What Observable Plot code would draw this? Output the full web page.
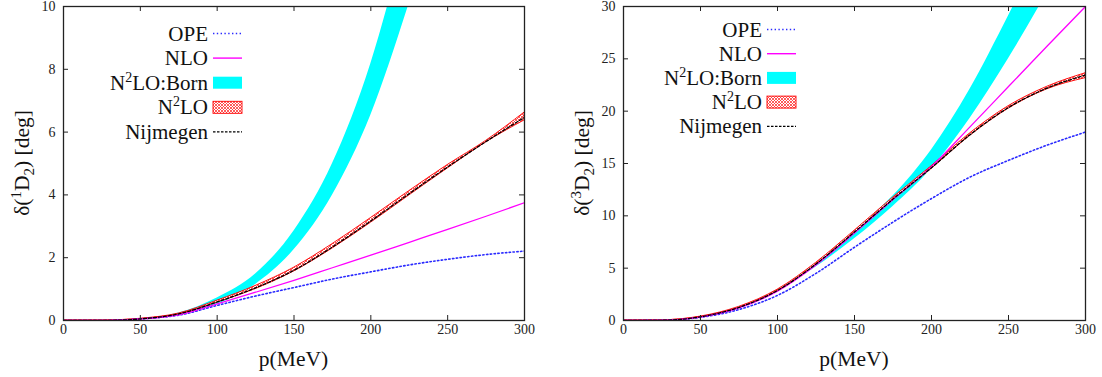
<!DOCTYPE html>
<html><head><meta charset="utf-8">
<script src="https://cdn.jsdelivr.net/npm/d3@7"></script>
<script src="https://cdn.jsdelivr.net/npm/@observablehq/plot@0.6"></script>
<style>
body{margin:0;background:#fff;}
#wrap{display:flex;width:1102px;height:377px;overflow:hidden;}
#wrap svg{display:block;}
#wrap svg text{font-family:"Liberation Serif", "Times New Roman", serif;}
</style></head><body><div id="wrap"></div>
<script>
// ---------- data ----------
const pGrid = [0, 25, 50, 75, 100, 125, 150, 175, 200, 225, 250, 275, 300];
const xTicks = [0, 50, 100, 150, 200, 250, 300];

// 1D2 panel
const d1Ticks = [0, 2, 4, 6, 8, 10];
const d1Ope   = [0, 0.00, 0.05, 0.17, 0.48, 0.78, 1.05, 1.32, 1.55, 1.77, 1.95, 2.10, 2.21];
const d1Nlo   = [0, 0.00, 0.05, 0.18, 0.53, 0.90, 1.28, 1.68, 2.08, 2.49, 2.90, 3.32, 3.75];
const d1N2loLo= [0, 0.00, 0.045,0.20, 0.57, 1.00, 1.56, 2.29, 3.11, 3.98, 4.84, 5.67, 6.37];
const d1N2loHi= [0, 0.00, 0.055,0.22, 0.63, 1.10, 1.68, 2.43, 3.26, 4.12, 4.95, 5.72, 6.62];
const d1Nijm  = [0, 0.00, 0.05, 0.21, 0.59, 1.04, 1.60, 2.34, 3.17, 4.04, 4.89, 5.70, 6.47];
const d1BornP = [0, 25, 50, 75, 100, 125, 150, 175, 200, 225];
const d1BornLo= [0, 0.00, 0.05, 0.21, 0.52, 1.15, 2.25, 3.99, 6.54, 10.1];
const d1BornHi= [0, 0.00, 0.05, 0.24, 0.72, 1.48, 2.85, 4.99, 8.18, 12.65];

// 3D2 panel
const d3Ticks = [0, 5, 10, 15, 20, 25, 30];
const d3Ope   = [0, 0.02, 0.30, 1.05, 2.40, 4.50, 7.00, 9.40, 11.65, 13.70, 15.30, 16.75, 18.00];
const d3Nlo   = [0, 0.02, 0.33, 1.20, 2.80, 5.30, 8.35, 11.55, 14.70, 18.50, 22.35, 26.20, 30.00];
const d3N2loLo= [0, 0.02, 0.33, 1.20, 2.80, 5.30, 8.33, 11.47, 14.47, 17.63, 20.23, 22.08, 23.15];
const d3N2loHi= [0, 0.02, 0.37, 1.30, 2.94, 5.50, 8.57, 11.73, 14.73, 17.87, 20.47, 22.32, 23.62];
const d3Nijm  = [0, 0.02, 0.35, 1.25, 2.87, 5.40, 8.45, 11.60, 14.60, 17.75, 20.35, 22.20, 23.45];
const d3BornP = [0, 25, 50, 75, 100, 125, 150, 175, 200, 225, 250, 275];
const d3BornLo= [0, 0.02, 0.33, 1.20, 2.75, 5.10, 7.80, 10.90, 14.50, 19.30, 25.00, 31.30];
const d3BornHi= [0, 0.02, 0.35, 1.25, 2.92, 5.45, 8.55, 11.90, 16.30, 22.10, 29.10, 36.50];

const legendLabels = ["OPE", "NLO", "N^2LO:Born", "N^2LO", "Nijmegen"];
const xLabel = "p(MeV)";
const yLabels = [["δ(", "1", "D", "2", ") [deg]"], ["δ(", "3", "D", "2", ") [deg]"]];

const colors = {ope: "#2a2aff", nlo: "#ff00ff", born: "#00ffff", n2lo: "#ff0000", nijm: "#000000"};

// ---------- helpers ----------
const FONT = "Liberation Serif";
function rows(ps, cols) { return ps.map((p, i) => { const o = {p}; for (const k in cols) o[k] = cols[k][i]; return o; }); }

function panel(cfg) {
  const W = 551, H = 377, mt = 6, mb = 57;
  const main = rows(pGrid, {ope: cfg.ope, nlo: cfg.nlo, lo: cfg.n2loLo, hi: cfg.n2loHi, nijm: cfg.nijm});
  const born = rows(cfg.bornP, {lo: cfg.bornLo, hi: cfg.bornHi});
  const pw = W - cfg.ml - cfg.mr, ph = H - mt - mb;
  const curve = "monotone-x";
  const svg = Plot.plot({
    width: W, height: H,
    marginLeft: cfg.ml, marginRight: cfg.mr, marginTop: mt, marginBottom: mb,
    x: {domain: [0, 300]},
    y: {domain: cfg.ydom},
    style: {fontFamily: FONT, fontSize: "14px", color: "#222", background: "white", overflow: "visible"},
    marks: [
      Plot.areaY(born, {x: "p", y1: "lo", y2: "hi", fill: colors.born, curve, clip: true}),
      Plot.areaY(main, {x: "p", y1: "lo", y2: "hi", fill: `url(#hatch${cfg.id})`, stroke: colors.n2lo, strokeWidth: 0.9, curve, clip: true}),
      Plot.line(main, {x: "p", y: "ope", stroke: colors.ope, strokeWidth: 1.6, strokeDasharray: "1.4,2.4", curve, clip: true}),
      Plot.line(main, {x: "p", y: "nlo", stroke: colors.nlo, strokeWidth: 1.3, curve, clip: true}),
      Plot.line(main, {x: "p", y: "nijm", stroke: colors.nijm, strokeWidth: 1.3, strokeDasharray: "3,2", curve, clip: true}),
      Plot.frame({stroke: "#222", strokeWidth: 1.3}),
      // inward ticks on all four sides
      Plot.tickX(xTicks, {x: d => d, insetTop: ph - 5, stroke: "#222"}),
      Plot.tickX(xTicks, {x: d => d, insetBottom: ph - 5, stroke: "#222"}),
      Plot.tickY(cfg.yticks, {y: d => d, insetRight: pw - 5, stroke: "#222"}),
      Plot.tickY(cfg.yticks, {y: d => d, insetLeft: pw - 5, stroke: "#222"}),
      Plot.axisX(xTicks, {tickSize: 0, tickPadding: 4, label: null, fontSize: 14}),
      Plot.axisY(cfg.yticks, {tickSize: 0, tickPadding: 8, label: null, fontSize: 14})
    ]
  });
  const s = d3.select(svg);
  s.selectAll("g[aria-label$='tick label'], g[aria-label$='tick label'] text")
    .style("font-size", "14px").style("font-family", "'Liberation Serif', serif").attr("fill", "#222");
  const pat = s.append("defs").append("pattern").attr("id", `hatch${cfg.id}`)
    .attr("patternUnits", "userSpaceOnUse").attr("width", 3).attr("height", 3);
  pat.append("rect").attr("width", 3).attr("height", 3).attr("fill", "#fff");
  pat.append("path").attr("d", "M0,0L3,3M3,0L0,3").attr("stroke", "#f33").attr("stroke-width", 0.8);

  s.append("text").attr("x", cfg.ml + pw / 2).attr("y", 366).attr("text-anchor", "middle")
    .attr("font-family", FONT).attr("font-size", 21.5).attr("fill", "#111").text(xLabel);
  const yl = s.append("text").attr("transform", `translate(${cfg.ml - 42},${mt + ph / 2}) rotate(-90)`)
    .attr("text-anchor", "middle").attr("dy", "0.35em")
    .attr("font-family", FONT).attr("font-size", 21.5).attr("fill", "#111");
  const parts = yLabels[cfg.id - 1];
  yl.append("tspan").text(parts[0]);
  yl.append("tspan").attr("font-size", 15).attr("dy", -8).text(parts[1]);
  yl.append("tspan").attr("dy", 8).text(parts[2]);
  yl.append("tspan").attr("font-size", 15).attr("dy", 5).text(parts[3]);
  yl.append("tspan").attr("dy", -5).text(parts[4]);

  const lg = s.append("g").attr("font-family", FONT).attr("font-size", 21).attr("fill", "#111");
  legendLabels.forEach((lab, i) => {
    const by = cfg.legY + i * cfg.legStep;
    const cy = by - 7;
    const t = lg.append("text").attr("x", cfg.legX).attr("y", by).attr("text-anchor", "end");
    const sp = lab.split("^");
    if (sp.length > 1) {
      t.append("tspan").text(sp[0]);
      t.append("tspan").attr("font-size", 14).attr("dy", -8).text(sp[1][0]);
      t.append("tspan").attr("dy", 8).text(sp[1].slice(1));
    } else t.text(lab);
    const x0 = cfg.legX + 5, x1 = cfg.legX + 34;
    if (i === 0) lg.append("line").attr("x1", x0).attr("x2", x1).attr("y1", cy).attr("y2", cy)
      .attr("stroke", colors.ope).attr("stroke-width", 1.6).attr("stroke-dasharray", "1.4,2.4");
    if (i === 1) lg.append("line").attr("x1", x0).attr("x2", x1).attr("y1", cy).attr("y2", cy)
      .attr("stroke", colors.nlo).attr("stroke-width", 1.4);
    if (i === 2) lg.append("rect").attr("x", x0).attr("y", cy - 6).attr("width", x1 - x0).attr("height", 12)
      .attr("fill", colors.born);
    if (i === 3) lg.append("rect").attr("x", x0).attr("y", cy - 6).attr("width", x1 - x0).attr("height", 12)
      .attr("fill", `url(#hatch${cfg.id})`).attr("stroke", colors.n2lo).attr("stroke-width", 0.9);
    if (i === 4) lg.append("line").attr("x1", x0).attr("x2", x1).attr("y1", cy).attr("y2", cy)
      .attr("stroke", colors.nijm).attr("stroke-width", 1.3).attr("stroke-dasharray", "2.5,1.5");
  });
  return svg;
}

const wrap = document.getElementById("wrap");
wrap.appendChild(panel({id: 1, ml: 63, mr: 27, ydom: [0, 10], yticks: d1Ticks,
  ope: d1Ope, nlo: d1Nlo, n2loLo: d1N2loLo, n2loHi: d1N2loHi, nijm: d1Nijm,
  bornP: d1BornP, bornLo: d1BornLo, bornHi: d1BornHi, legX: 208, legY: 40.5, legStep: 24.6}));
wrap.appendChild(panel({id: 2, ml: 72, mr: 17, ydom: [0, 30], yticks: d3Ticks,
  ope: d3Ope, nlo: d3Nlo, n2loLo: d3N2loLo, n2loHi: d3N2loHi, nijm: d3Nijm,
  bornP: d3BornP, bornLo: d3BornLo, bornHi: d3BornHi, legX: 211, legY: 36.5, legStep: 24.2}));
</script></body></html>
